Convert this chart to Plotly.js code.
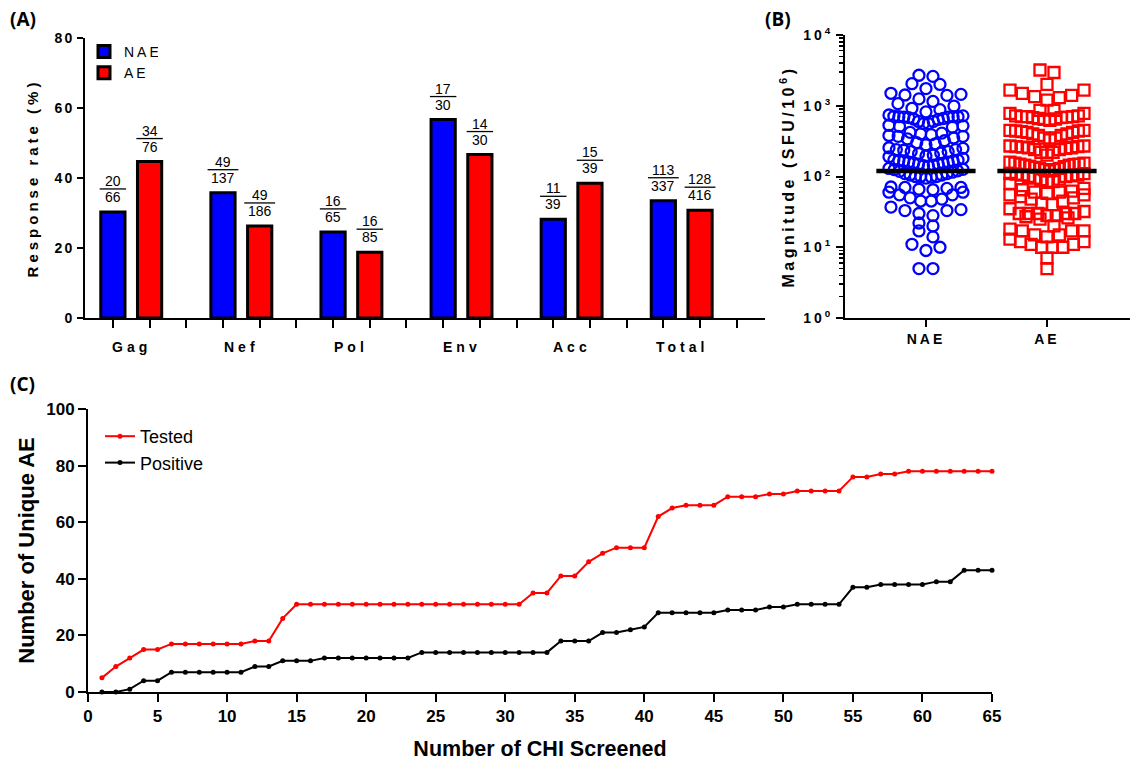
<!DOCTYPE html>
<html><head><meta charset="utf-8">
<script src="https://cdn.plot.ly/plotly-3.0.1.min.js"></script>
<style>
html,body{margin:0;padding:0;background:#fff;}
#chart{width:1132px;height:761px;}
#chart .ytitle {letter-spacing:4px;}
#chart .y2title {letter-spacing:3.5px;}
#chart .ytick text {letter-spacing:2px;}
#chart .x2tick text, #chart .y2tick text {letter-spacing:3px;}
#chart .legend .legendtext {letter-spacing:3px;}
</style>
</head><body><div id="chart"></div>
<script>
// ---------- Panel A data ----------
const genes = ['Gag','Nef','Pol','Env','Acc','Total'];
const naeRate = [30.3, 35.8, 24.6, 56.7, 28.2, 33.5];
const aeRate  = [44.7, 26.3, 18.8, 46.7, 38.5, 30.8];
const naeNum = [20, 49, 16, 17, 11, 113];
const naeDen = [66, 137, 65, 30, 39, 337];
const aeNum  = [34, 49, 16, 14, 15, 128];
const aeDen  = [76, 186, 85, 30, 39, 416];

// ---------- Panel B data ----------
const magGroups = ['NAE','AE'];
const magNAE = [2600,2700,2000,2050,1750,1450,1420,1400,1500,1250,1150,1070,990,920,880,820,740,720,
  700,700,690,680,660,640,600,560,530,510,500,520,560,600,650,690,700,710,
  420,400,380,370,350,320,290,280,300,340,370,390,410,
  250,240,235,225,215,200,190,180,195,210,225,240,255,
  170,168,165,160,155,150,145,140,142,150,155,160,165,172,
  130,125,120,115,110,105,100,100,98,95,100,105,110,118,126,
  70,70,68,65,60,55,50,45,45,48,55,60,66,71,
  37,33,30,28,33,34,22,20,17,14,10,9,11,5,5];
const magAE = [3200,2950,2000,1660,1660,1500,1400,1350,1300,1200,860,860,780,780,
  680,700,720,690,650,640,620,660,700,720,700,680,
  450,440,430,420,400,380,350,330,350,380,400,420,440,450,
  270,265,260,255,250,240,220,200,220,240,255,265,270,
  155,150,148,145,140,135,130,125,120,125,130,138,145,150,155,160,
  110,108,105,102,100,95,90,85,80,85,92,100,105,110,
  62,60,58,55,52,50,45,42,40,48,55,60,65,68,
  35,32,30,30,28,27,25,26,28,30,30,30,
  17,18,17,17,20,15,15,14,13,12,11,10,10,10,11,12,
  7,5];
const medianMag = [120, 120];

// ---------- Panel C data ----------
const chiScreened = [1,2,3,4,5,6,7,8,9,10,11,12,13,14,15,16,17,18,19,20,21,22,23,24,25,26,27,28,29,30,
  31,32,33,34,35,36,37,38,39,40,41,42,43,44,45,46,47,48,49,50,51,52,53,54,55,56,57,58,59,60,61,62,63,64,65];
const testedAE = [5,9,12,15,15,17,17,17,17,17,
  17,18,18,26,31,31,31,31,31,31,
  31,31,31,31,31,31,31,31,31,31,
  31,35,35,41,41,46,49,51,51,51,
  62,65,66,66,66,69,69,69,70,70,
  71,71,71,71,76,76,77,77,78,78,
  78,78,78,78,78];
const positiveAE = [0,0,1,4,4,7,7,7,7,7,
  7,9,9,11,11,11,12,12,12,12,
  12,12,12,14,14,14,14,14,14,14,
  14,14,14,18,18,18,21,21,22,23,
  28,28,28,28,28,29,29,29,30,30,
  31,31,31,31,37,37,38,38,38,38,
  39,39,43,43,43];

// ---------- helpers ----------
const W = 1132, H = 761;
const px = v => v / W;
const py = v => 1 - v / H;
const BOLD = 'bold';
const FONT = 'Liberation Sans, Arial, sans-serif';

// GraphPad-like scatter: points that are close vertically are laid out side by side in a row,
// highest values of a row on the outside (gives the chevron rows of the original)
function rowLayout(values, center, pxPerDecade, pxPerUnit, binH, spacing, maxHalf) {
  const order = values.map((v, i) => i).sort((a, b) => values[a] - values[b]);
  const bins = [];
  let cur = null;
  order.forEach(i => {
    const y = Math.log10(values[i]) * pxPerDecade;
    if (!cur || y - cur.y0 > binH) { cur = { y0: y, items: [] }; bins.push(cur); }
    cur.items.push(i);
  });
  const xs = new Array(values.length);
  bins.forEach(b => {
    const n = b.items.length;
    const step = n > 1 ? Math.min(spacing, 2 * maxHalf / (n - 1)) : 0;
    const slotX = [];
    for (let k = 0; k < n; k++) slotX.push((k - (n - 1) / 2) * step);
    const slotOrder = [];
    let lo = 0, hi = n - 1;
    while (lo <= hi) { slotOrder.push(lo); if (hi !== lo) slotOrder.push(hi); lo++; hi--; }
    const desc = b.items.slice().sort((a, c) => values[c] - values[a]);
    desc.forEach((i, k) => { xs[i] = center + slotX[slotOrder[k]] / pxPerUnit; });
  });
  return xs;
}

// ---------- Panel A traces ----------
const naeX = genes.map((g, i) => 3 * i);
const aeX = genes.map((g, i) => 3 * i + 1);
const slots = [];
genes.forEach((g, i) => { slots.push(3 * i, 3 * i + 1, 3 * i + 2); });

const traces = [];
traces.push({
  type: 'bar', x: naeX, y: naeRate, width: 0.66, name: 'NAE', legend: 'legend',
  marker: { color: '#0000ff', line: { color: '#000', width: 3 } }, xaxis: 'x', yaxis: 'y', hoverinfo: 'skip'
});
traces.push({
  type: 'bar', x: aeX, y: aeRate, width: 0.66, name: 'AE', legend: 'legend',
  marker: { color: '#ff0000', line: { color: '#000', width: 3 } }, xaxis: 'x', yaxis: 'y', hoverinfo: 'skip'
});

// ---------- Panel B traces ----------
const pxPerDecade = (318 - 35) / 4;
const pxPerUnitB = 121;
traces.push({
  type: 'scatter', mode: 'markers', x: rowLayout(magNAE, 0, pxPerDecade, pxPerUnitB, 10, 14, 37), y: magNAE,
  xaxis: 'x2', yaxis: 'y2', showlegend: false, cliponaxis: false,
  marker: { symbol: 'circle-open', size: 11, color: '#0000ff', line: { width: 2.3, color: '#0000ff' } }
});
traces.push({
  type: 'scatter', mode: 'markers', x: rowLayout(magAE, 1, pxPerDecade, pxPerUnitB, 10, 14, 37), y: magAE,
  xaxis: 'x2', yaxis: 'y2', showlegend: false, cliponaxis: false,
  marker: { symbol: 'square-open', size: 11, color: '#ff0000', line: { width: 2.3, color: '#ff0000' } }
});
magGroups.forEach((g, i) => {
  traces.push({
    type: 'scatter', mode: 'lines', x: [i - 0.41, i + 0.41], y: [medianMag[i], medianMag[i]],
    xaxis: 'x2', yaxis: 'y2', showlegend: false, line: { color: '#000', width: 4.5 }
  });
});

// ---------- Panel C traces ----------
traces.push({
  type: 'scatter', mode: 'lines+markers', x: chiScreened, y: testedAE, name: 'Tested', legend: 'legend2',
  xaxis: 'x3', yaxis: 'y3', cliponaxis: false,
  line: { color: '#ff0000', width: 2 }, marker: { color: '#ff0000', size: 5 }
});
traces.push({
  type: 'scatter', mode: 'lines+markers', x: chiScreened, y: positiveAE, name: 'Positive', legend: 'legend2',
  xaxis: 'x3', yaxis: 'y3', cliponaxis: false,
  line: { color: '#000', width: 2 }, marker: { color: '#000', size: 5 }
});

// ---------- annotations & shapes ----------
const annotations = [];
const shapes = [];
const fracFont = { family: 'Liberation Sans Narrow, Liberation Sans, Arial, sans-serif', size: 14, color: '#000' };
function fraction(x, y, num, den) {
  annotations.push({
    x: x, y: y, xref: 'x', yref: 'y', text: String(den), showarrow: false,
    yanchor: 'bottom', xanchor: 'center', yshift: 5, font: fracFont
  });
  annotations.push({
    x: x, y: y, xref: 'x', yref: 'y', text: String(num), showarrow: false,
    yanchor: 'bottom', xanchor: 'center', yshift: 21, font: fracFont
  });
  const digits = Math.max(String(num).length, String(den).length);
  const half = digits > 2 ? 0.42 : 0.36;
  shapes.push({
    type: 'line', xref: 'x', yref: 'y', ysizemode: 'pixel', yanchor: y, y0: 23, y1: 23,
    x0: x - half, x1: x + half, line: { color: '#000', width: 1.3 }
  });
}
genes.forEach((g, i) => {
  fraction(naeX[i], naeRate[i], naeNum[i], naeDen[i]);
  fraction(aeX[i], aeRate[i], aeNum[i], aeDen[i]);
  annotations.push({
    x: 3 * i + 0.5, y: py(347), xref: 'x', yref: 'paper', showarrow: false,
    text: '<span style="letter-spacing:4px">' + g + '</span>', yanchor: 'middle', xanchor: 'center',
    font: { family: FONT, size: 14, weight: BOLD, color: '#000' }
  });
});
[['(A)', 8, 19], ['(B)', 763, 19], ['(C)', 8, 384]].forEach(p => {
  annotations.push({
    x: px(p[1]), y: py(p[2]), xref: 'paper', yref: 'paper', text: p[0], showarrow: false,
    xanchor: 'left', yanchor: 'middle', font: { family: 'Open Sans, ' + FONT, size: 19, weight: BOLD, color: '#000' }
  });
});

const axBase = { showline: true, linewidth: 2, linecolor: '#000', showgrid: false, zeroline: false,
  ticks: 'outside', tickwidth: 2, tickcolor: '#000', fixedrange: true };

const minorLog = [];
[1, 10, 100, 1000].forEach(d => { [2, 3, 4, 5, 6, 7, 8, 9].forEach(m => minorLog.push(m * d)); });

const layout = {
  width: W, height: H, margin: { l: 0, r: 0, t: 0, b: 0 },
  paper_bgcolor: '#fff', plot_bgcolor: 'rgba(0,0,0,0)',
  font: { family: FONT, color: '#000' },
  barmode: 'overlay', showlegend: true, hovermode: false,
  xaxis: Object.assign({}, axBase, {
    domain: [px(85), px(765)], range: [-0.76, 17.77], tickvals: slots, showticklabels: false,
    ticklen: 8, anchor: 'y'
  }),
  yaxis: Object.assign({}, axBase, {
    domain: [py(318), py(38)], range: [0, 80], tickvals: [0, 20, 40, 60, 80], ticklen: 6, anchor: 'x',
    tickfont: { size: 14, weight: BOLD },
    title: { text: 'Response rate (%)', font: { size: 15, weight: BOLD }, standoff: 16 }
  }),
  xaxis2: Object.assign({}, axBase, {
    domain: [px(845), px(1130)], range: [-0.669, 1.686], tickvals: [0, 1], ticktext: magGroups,
    ticklen: 7, anchor: 'y2', tickfont: { size: 14, weight: BOLD }
  }),
  yaxis2: Object.assign({}, axBase, {
    type: 'log', domain: [py(318), py(35)], range: [0, 4], anchor: 'x2',
    tickvals: [1, 10, 100, 1000, 10000],
    ticktext: ['10<sup>0</sup>', '10<sup>1</sup>', '10<sup>2</sup>', '10<sup>3</sup>', '10<sup>4</sup>'],
    ticklen: 7, tickfont: { size: 14, weight: BOLD },
    minor: { tickvals: minorLog, ticks: 'outside', ticklen: 4, tickwidth: 1.5, tickcolor: '#000', showgrid: false },
    title: { text: 'Magnitude (SFU/10<sup>6</sup>)', font: { size: 16, weight: BOLD }, standoff: 14 }
  }),
  xaxis3: Object.assign({}, axBase, {
    domain: [px(88), px(992)], range: [0, 65], tick0: 0, dtick: 5, ticklen: 8, anchor: 'y3',
    tickfont: { size: 17, weight: BOLD },
    title: { text: 'Number of CHI Screened', font: { size: 21.5, weight: BOLD }, standoff: 16 }
  }),
  yaxis3: Object.assign({}, axBase, {
    domain: [py(692), py(409)], range: [0, 100], tick0: 0, dtick: 20, ticklen: 8, anchor: 'x3',
    tickfont: { size: 17, weight: BOLD },
    title: { text: 'Number of Unique AE', font: { size: 22, weight: BOLD }, standoff: 6 }
  }),
  legend: {
    x: px(84), y: py(36), xanchor: 'left', yanchor: 'top', bgcolor: 'rgba(0,0,0,0)',
    font: { size: 14 }, itemwidth: 30, tracegroupgap: 0, traceorder: 'normal'
  },
  legend2: {
    x: px(100), y: py(418), xanchor: 'left', yanchor: 'top', bgcolor: 'rgba(0,0,0,0)',
    font: { size: 18 }, itemwidth: 30, tracegroupgap: 0, traceorder: 'normal'
  },
  annotations: annotations,
  shapes: shapes
};

Plotly.newPlot('chart', traces, layout, { staticPlot: true, displayModeBar: false });
</script></body></html>
